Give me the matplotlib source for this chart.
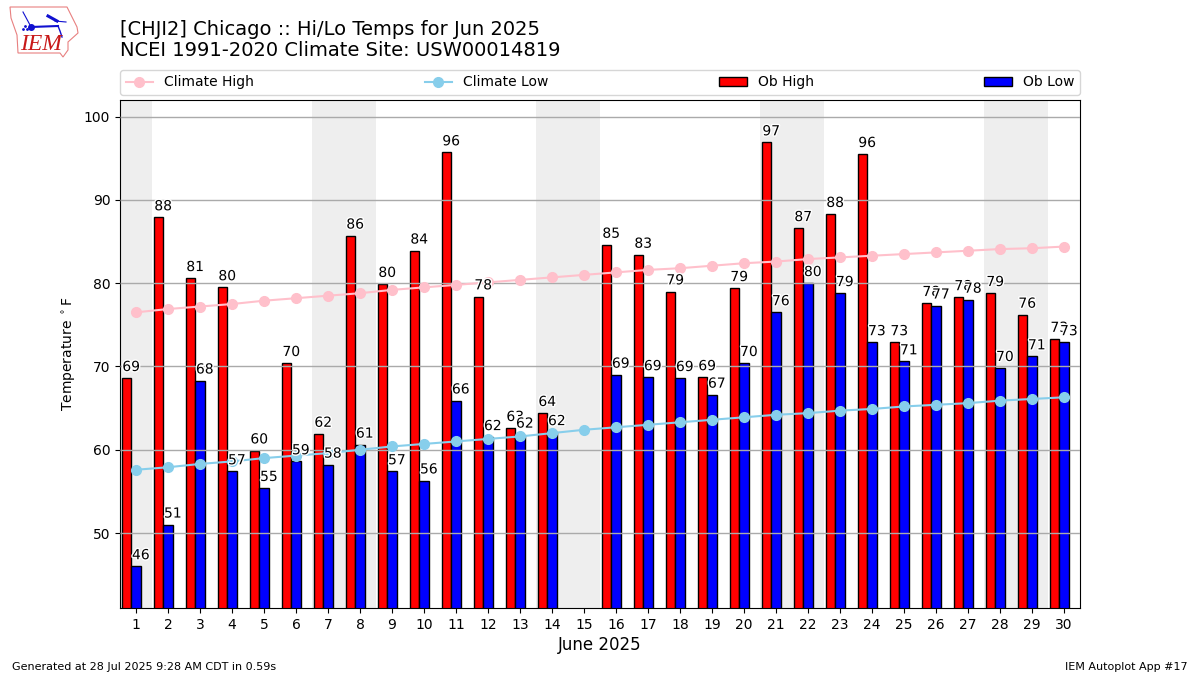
import numpy as np
import matplotlib
matplotlib.use("Agg")
import matplotlib.pyplot as plt
import matplotlib.patheffects as pe
from matplotlib.patches import Polygon

days = list(range(1, 31))
ob_high = [68.6, 87.9, 80.6, 79.5, 59.9, 70.4, 61.9, 85.7, 79.9, 83.9,
           95.7, 78.4, 62.6, 64.4, None, 84.6, 83.4, 79.0, 68.7, 79.4,
           96.9, 86.6, 88.3, 95.5, 72.9, 77.6, 78.3, 78.8, 76.2, 73.3]
ob_low = [46.0, 51.0, 68.3, 57.4, 55.4, 58.6, 58.2, 60.6, 57.4, 56.3,
          65.9, 61.5, 61.8, 62.1, None, 69.0, 68.7, 68.6, 66.6, 70.4,
          76.5, 80.0, 78.8, 72.9, 70.6, 77.3, 78.0, 69.8, 71.2, 72.9]
climate_high = [76.5, 76.9, 77.2, 77.5, 77.9, 78.2, 78.5, 78.8, 79.2, 79.5,
                79.8, 80.1, 80.4, 80.7, 81.0, 81.3, 81.6, 81.8, 82.1, 82.4,
                82.6, 82.9, 83.1, 83.3, 83.5, 83.7, 83.9, 84.1, 84.2, 84.4]
climate_low = [57.6, 57.9, 58.3, 58.6, 59.0, 59.3, 59.6, 60.0, 60.4, 60.7,
               61.0, 61.3, 61.6, 62.0, 62.4, 62.7, 63.0, 63.3, 63.6, 63.9,
               64.2, 64.4, 64.7, 64.9, 65.2, 65.4, 65.6, 65.9, 66.1, 66.3]
weekends = [(0.5, 1.5), (6.5, 8.5), (13.5, 15.5), (20.5, 22.5), (27.5, 29.5)]

# rough outline of the state for the logo, pixel coords
logo_outline = [(10, 7), (67, 7), (70, 13), (77, 27), (78, 33), (68, 42), (68, 50),
                (63, 57), (60, 53), (18, 53), (17, 35), (11, 18)]


def main():
    fig = plt.figure(figsize=(12, 6.75), dpi=100)
    ax = fig.add_axes([0.1, 1 - 608 / 675, 0.8, 508 / 675])

    x = np.array(days)
    high = np.array(ob_high, dtype=float)
    low = np.array(ob_low, dtype=float)

    for start, end in weekends:
        ax.axvspan(start, end, color="#eeeeee", lw=0, zorder=0)

    ax.bar(x - 0.3, high, width=0.3, color="r", edgecolor="k", lw=1, label="Ob High", zorder=2)
    ax.bar(x, low, width=0.3, color="b", edgecolor="k", lw=1, label="Ob Low", zorder=2)
    ax.plot(x, climate_high, color="pink", marker="o", ms=7, lw=1.5, label="Climate High", zorder=4)
    ax.plot(x, climate_low, color="skyblue", marker="o", ms=7, lw=1.5, label="Climate Low", zorder=4)

    # white halo around the value labels
    halo = [pe.withStroke(linewidth=2, foreground="white")]
    for d, hi, lo in zip(days, ob_high, ob_low):
        if hi is not None:
            ax.text(d - 0.15, hi + 0.5, f"{hi:.0f}", ha="center", va="bottom", fontsize=10,
                    zorder=5, path_effects=halo)
        if lo is not None:
            ax.text(d + 0.15, lo + 0.5, f"{lo:.0f}", ha="center", va="bottom", fontsize=10,
                    zorder=5, path_effects=halo)

    ax.set_xlim(0.5, 30.5)
    ax.set_ylim(41, 102)
    ax.set_xticks(days)
    ax.set_yticks([50, 60, 70, 80, 90, 100])
    ax.yaxis.grid(True, color="#aaaaaa", lw=1, zorder=3)
    ax.set_axisbelow(False)
    ax.set_xlabel("June 2025", fontsize=12, labelpad=3)
    ax.set_ylabel(r"Temperature $^\circ$F")

    handles, labels = ax.get_legend_handles_labels()
    order = [labels.index(n) for n in ["Climate High", "Climate Low", "Ob High", "Ob Low"]]
    ax.legend([handles[i] for i in order], [labels[i] for i in order],
              bbox_to_anchor=(0, 1.01, 1, 0.05), loc="lower left", ncol=4, mode="expand",
              borderaxespad=0, fontsize=10)

    fig.text(0.1, 1 - 35 / 675, "[CHJI2] Chicago :: Hi/Lo Temps for Jun 2025", fontsize=14, va="baseline")
    fig.text(0.1, 1 - 56 / 675, "NCEI 1991-2020 Climate Site: USW00014819", fontsize=14, va="baseline")
    fig.text(0.01, 1 - 670 / 675, "Generated at 28 Jul 2025 9:28 AM CDT in 0.59s", fontsize=8, va="baseline")
    fig.text(0.99, 1 - 670 / 675, "IEM Autoplot App #17", fontsize=8, ha="right", va="baseline")

    # logo, drawn in figure pixels
    logo = fig.add_axes([0, 1 - 60 / 675, 85 / 1200, 60 / 675])
    logo.set_xlim(0, 85)
    logo.set_ylim(60, 0)
    logo.axis("off")
    logo.add_patch(Polygon(logo_outline, closed=True, fill=False, ec="#e88080", lw=0.8))
    logo.plot([31, 58], [27, 26], color="#1010d0", lw=1.5)
    logo.plot([31], [27], "o", color="#1010d0", ms=4)
    logo.plot([48, 57], [16, 21], color="#1010d0", lw=2.2)
    logo.plot([55, 66], [21, 22], color="#1010d0", lw=0.8)
    logo.plot([58, 60, 62], [26, 31, 37], color="#1010d0", lw=1)
    logo.plot([23, 30], [12, 25], color="#1010d0", lw=0.8)
    logo.plot([23, 25, 27], [29, 26, 29], ".", color="#1010d0", ms=2)
    logo.text(20, 45, "IEM", color="#c81818", family="Liberation Serif", style="italic",
              fontsize=17, va="center")

    plt.savefig("out.png", dpi=100)


if __name__ == "__main__":
    main()
